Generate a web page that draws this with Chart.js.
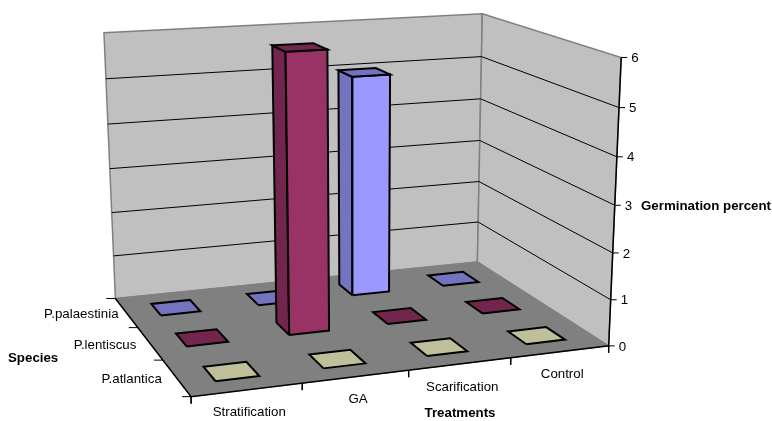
<!DOCTYPE html>
<html>
<head>
<meta charset="utf-8">
<title>Germination percent</title>
<script src="https://cdn.jsdelivr.net/npm/chart.js@4"></script>
<style>
  html, body { margin: 0; padding: 0; background: #fff; }
  canvas { display: block; }
</style>
</head>
<body>
<canvas id="chart" width="772" height="421"></canvas>
<script>
// ===== DATA =====
const treatments = ['Stratification', 'GA', 'Scarification', 'Control'];
const species = ['P.atlantica', 'P.lentiscus', 'P.palaestinia'];
const atlanticaValues = [0, 0, 0, 0];
const lentiscusValues = [0, 6, 0, 0];
const palaestiniaValues = [0, 0, 5, 0];
const valueTicks = [0, 1, 2, 3, 4, 5, 6];
const valueMax = 6;

// ===== 3D VIEW =====
// screen position of the box corners, [u, v, w, x, y]
const boxCorners = [
  [0, 0, 0, 191.5, 397], [1, 0, 0, 608, 346], [0, 1, 0, 115, 298], [1, 1, 0, 478, 262],
  [1, 0, 1, 621.5, 57], [0, 1, 1, 104, 33], [1, 1, 1, 482, 14]
];

// least squares fit of the projective camera to the corners
function solveCamera(corners) {
  const rows = [];
  corners.forEach(([u, v, w, x, y]) => {
    rows.push([u, v, w, 1, 0, 0, 0, 0, -x * u, -x * v, -x * w, x]);
    rows.push([0, 0, 0, 0, u, v, w, 1, -y * u, -y * v, -y * w, y]);
  });
  const n = 11;
  const m = [];
  for (let i = 0; i < n; i++) {
    m.push([]);
    for (let j = 0; j <= n; j++) {
      m[i].push(rows.reduce((s, r) => s + r[i] * r[j], 0));
    }
  }
  for (let i = 0; i < n; i++) {
    let best = i;
    for (let k = i + 1; k < n; k++) {
      if (Math.abs(m[k][i]) > Math.abs(m[best][i])) best = k;
    }
    [m[i], m[best]] = [m[best], m[i]];
    for (let k = 0; k < n; k++) {
      if (k === i) continue;
      const f = m[k][i] / m[i][i];
      for (let j = i; j <= n; j++) m[k][j] -= f * m[i][j];
    }
  }
  return m.map((r, i) => r[n] / r[i]);
}

const cam = solveCamera(boxCorners);

function project(u, v, w) {
  const d = cam[8] * u + cam[9] * v + cam[10] * w + 1;
  return {
    x: (cam[0] * u + cam[1] * v + cam[2] * w + cam[3]) / d,
    y: (cam[4] * u + cam[5] * v + cam[6] * w + cam[7]) / d
  };
}

// ===== DATASETS =====
const datasets = [];

function addFace(points, fillColor, lineColor, lineWidth) {
  const data = points.map(p => project(p[0], p[1], p[2]));
  data.push(data[0]);
  datasets.push({
    data: data,
    showLine: true,
    fill: fillColor ? 'shape' : false,
    backgroundColor: fillColor || 'transparent',
    borderColor: lineColor,
    borderWidth: lineWidth,
    pointRadius: 0,
    tension: 0
  });
}

function addLine(points, lineColor, lineWidth) {
  datasets.push({
    data: points,
    showLine: true,
    fill: false,
    borderColor: lineColor,
    borderWidth: lineWidth,
    pointRadius: 0,
    tension: 0
  });
}

// walls and floor
addFace([[0, 1, 0], [1, 1, 0], [1, 1, 1], [0, 1, 1]], '#C0C0C0', '#808080', 1.5);
addFace([[1, 1, 0], [1, 0, 0], [1, 0, 1], [1, 1, 1]], '#C0C0C0', '#808080', 1.5);
addFace([[0, 0, 0], [1, 0, 0], [1, 1, 0], [0, 1, 0]], '#808080', '#808080', 1);

// gridlines
valueTicks.slice(1, -1).forEach(t => {
  const w = t / valueMax;
  addLine([project(0, 1, w), project(1, 1, w), project(1, 0, w)], '#000000', 1);
});

// axis lines and ticks
addLine([project(0, 1, 0), project(0, 0, 0), project(1, 0, 0), project(1, 0, 1)], '#000000', 1.5);
valueTicks.forEach(t => {
  const p = project(1, 0, t / valueMax);
  addLine([p, { x: p.x + 6, y: p.y }], '#000000', 1);
});
treatments.concat(['']).forEach((t, i) => {
  const p = project(i / treatments.length, 0, 0);
  addLine([p, { x: p.x, y: p.y + 7 }], '#000000', 1);
});
species.concat(['']).forEach((s, i) => {
  const p = project(0, i / species.length, 0);
  addLine([p, { x: p.x - 9, y: p.y }], '#000000', 1);
});

// bars, back row first
function addBar(col, row, value, frontColor, shadeColor) {
  const half = 0.2;
  const u0 = (col + 0.5 - half) / treatments.length;
  const u1 = (col + 0.5 + half) / treatments.length;
  const v0 = (row + 0.5 - half) / species.length;
  const v1 = (row + 0.5 + half) / species.length;
  const w = value / valueMax;
  if (value > 0) {
    addFace([[u0, v0, 0], [u0, v1, 0], [u0, v1, w], [u0, v0, w]], shadeColor, '#000000', 2);
    addFace([[u0, v0, 0], [u1, v0, 0], [u1, v0, w], [u0, v0, w]], frontColor, '#000000', 2);
  }
  addFace([[u0, v0, w], [u1, v0, w], [u1, v1, w], [u0, v1, w]], shadeColor, '#000000', 2);
}

palaestiniaValues.forEach((v, i) => addBar(i, 2, v, '#9999FF', '#7373BF'));
lentiscusValues.forEach((v, i) => addBar(i, 1, v, '#993366', '#73264D'));
atlanticaValues.forEach((v, i) => addBar(i, 0, v, '#FFFFCC', '#BFBF99'));

// first drawn gets the highest order
datasets.forEach((d, i) => { d.order = datasets.length - i; });

// ===== TEXT =====
const textPlugin = {
  id: 'axisText',
  afterDatasetsDraw(chart) {
    const c = chart.ctx;
    const sx = chart.scales.x;
    const sy = chart.scales.y;
    const put = (text, x, y, align, bold) => {
      c.font = (bold ? 'bold ' : '') + '13.3px "Liberation Sans", Arial, sans-serif';
      c.textAlign = align;
      c.textBaseline = 'middle';
      c.fillStyle = '#000000';
      c.fillText(text, sx.getPixelForValue(x), sy.getPixelForValue(y));
    };
    c.save();
    treatments.forEach((t, i) => {
      const p = project((i + 0.5) / treatments.length, 0, 0);
      put(t, p.x + 2, p.y + 23, 'center');
    });
    species.forEach((s, i) => {
      const p = project(0, (i + 0.5) / species.length, 0);
      put(s, p.x - 45, p.y + 2, 'center');
    });
    valueTicks.forEach(t => {
      const p = project(1, 0, t / valueMax);
      put(String(t), p.x + 10, p.y + 1, 'left');
    });
    put('Germination percent', 641, 206, 'left', true);
    put('Treatments', 460, 413, 'center', true);
    put('Species', 8, 358, 'left', true);
    c.restore();
  }
};

// ===== CHART =====
new Chart(document.getElementById('chart').getContext('2d'), {
  type: 'scatter',
  data: { datasets: datasets },
  plugins: [textPlugin],
  options: {
    responsive: false,
    animation: false,
    devicePixelRatio: 1,
    layout: { padding: 0 },
    plugins: { legend: { display: false }, tooltip: { enabled: false } },
    scales: {
      x: { type: 'linear', min: 0, max: 772, display: false },
      y: { type: 'linear', min: 0, max: 421, reverse: true, display: false }
    }
  }
});
</script>
</body>
</html>
